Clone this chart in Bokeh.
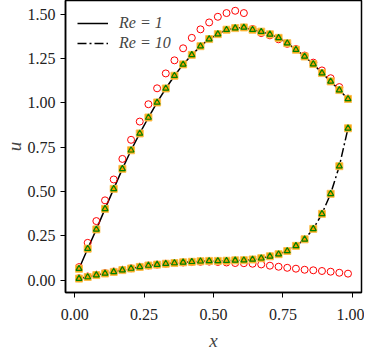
import numpy as np
from bokeh.plotting import figure
from bokeh.models import Range1d, FixedTicker, PrintfTickFormatter, Legend, LegendItem
from bokeh.embed import file_html
from bokeh.resources import INLINE

# x positions of the samples (cell centres, 32 cells)
x_vals = [(k + 0.5) / 32 for k in range(32)]

# Re = 1 : reference line and markers
u_re1_line = [0.064, 0.177, 0.286, 0.402, 0.515, 0.628, 0.733, 0.828, 0.918, 1.003,
              1.082, 1.154, 1.218, 1.272, 1.321, 1.361, 1.389, 1.414, 1.423, 1.427,
              1.414, 1.403, 1.388, 1.368, 1.338, 1.301, 1.263, 1.220, 1.169, 1.122,
              1.073, 1.023]
u_re1_circ = [0.073, 0.210, 0.333, 0.450, 0.568, 0.684, 0.792, 0.895, 0.993, 1.083,
              1.167, 1.241, 1.309, 1.368, 1.416, 1.455, 1.487, 1.508, 1.521, 1.508,
              1.418, 1.395, 1.382, 1.360, 1.334, 1.305, 1.268, 1.228, 1.184, 1.140,
              1.090, 1.025]

# Re = 10 : reference line and markers
u_re10_line = [0.008, 0.017, 0.028, 0.037, 0.046, 0.056, 0.065, 0.074, 0.082, 0.087,
               0.092, 0.096, 0.100, 0.103, 0.106, 0.108, 0.108, 0.109, 0.111, 0.112,
               0.116, 0.123, 0.134, 0.146, 0.164, 0.193, 0.230, 0.289, 0.374, 0.487,
               0.643, 0.857]
u_re10_circ = [0.010, 0.020, 0.030, 0.039, 0.048, 0.058, 0.066, 0.075, 0.082, 0.087,
               0.092, 0.096, 0.099, 0.101, 0.103, 0.104, 0.102, 0.099, 0.096, 0.095,
               0.092, 0.088, 0.081, 0.075, 0.069, 0.064, 0.058, 0.055, 0.051, 0.047,
               0.041, 0.036]

x_ticks = [0.0, 0.25, 0.5, 0.75, 1.0]
y_ticks = [0.0, 0.25, 0.5, 0.75, 1.0, 1.25, 1.5]

FONT = "Liberation Serif"

p = figure(frame_width=296, frame_height=292,
           x_range=Range1d(-0.033, 1.033), y_range=Range1d(-0.0705, 1.579),
           output_backend="svg", toolbar_location=None,
           min_border_left=53, min_border_top=0, min_border_right=3, min_border_bottom=41)
p.background_fill_color = "white"
p.border_fill_color = "white"
p.grid.visible = False
p.outline_line_color = "black"
p.outline_line_width = 1.5
p.outline_line_alpha = 1.0

for ax in (p.xaxis[0], p.yaxis[0]):
    ax.axis_line_color = "black"
    ax.axis_line_width = 1.5
    ax.major_tick_out = 5
    ax.major_tick_in = 0
    ax.major_tick_line_width = 1
    ax.minor_tick_line_color = None
    ax.major_label_text_font = FONT
    ax.major_label_text_font_size = "16px"
    ax.major_label_text_color = "#222222"
    ax.axis_label_text_font = FONT
    ax.axis_label_text_font_size = "19px"
    ax.axis_label_text_font_style = "italic"
    ax.formatter = PrintfTickFormatter(format="%.2f")

p.xaxis.ticker = FixedTicker(ticks=x_ticks)
p.yaxis.ticker = FixedTicker(ticks=y_ticks)
p.xaxis.major_label_standoff = 11
p.yaxis.major_label_standoff = 5
p.xaxis.axis_label = "x"
p.yaxis.axis_label = "u"
p.xaxis.axis_label_standoff = 7
p.yaxis.axis_label_standoff = 0

# lines
r1 = p.line(x_vals, u_re1_line, line_color="black", line_width=1.5)
r10 = p.line(x_vals, u_re10_line, line_color="black", line_width=1.5, line_dash="9 3 2 3")

# markers
for ys_c, ys_l in ((u_re1_circ, u_re1_line), (u_re10_circ, u_re10_line)):
    p.scatter(x_vals, ys_c, marker="circle", size=7, fill_color=None,
              line_color="red", line_width=1)
    p.scatter(x_vals, ys_l, marker="square", size=7, fill_color="#f5a000",
              line_color="#fbbf50", line_width=1)
    p.scatter(x_vals, ys_l, marker="triangle", size=6, fill_color=None,
              line_color="green", line_width=1.2)

legend = Legend(items=[LegendItem(label="Re = 1", renderers=[r1]),
                       LegendItem(label="Re = 10", renderers=[r10])],
                location=(12, 239), margin=0, padding=0, spacing=0,
                glyph_width=31, glyph_height=20, label_standoff=11,
                label_text_font=FONT, label_text_font_size="16px",
                label_text_font_style="italic",
                background_fill_alpha=0, border_line_alpha=0)
p.add_layout(legend)

open("out.html", "w").write(file_html(p, INLINE))
